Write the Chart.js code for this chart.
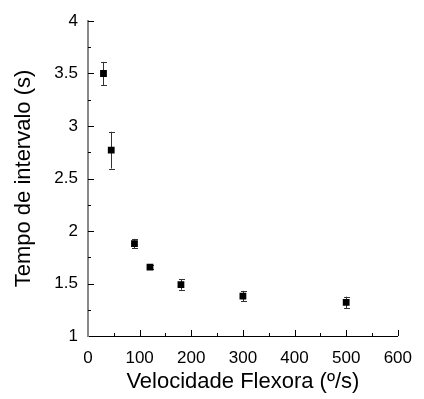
<!DOCTYPE html>
<html>
<head>
<meta charset="utf-8">
<script src="https://cdn.jsdelivr.net/npm/chart.js@4"></script>
<style>
html,body{margin:0;padding:0;background:#fff;}
#wrap{width:424px;height:399px;}
</style>
</head>
<body>
<div id="wrap"><canvas id="c" width="424" height="399"></canvas></div>
<script>
const velocidade = [30, 45, 90, 120, 180, 300, 500];
const tempo = [3.50, 2.77, 1.88, 1.655, 1.49, 1.38, 1.32];
const erro = [0.11, 0.175, 0.045, 0.02, 0.05, 0.05, 0.055];
const xTicks = [0, 100, 200, 300, 400, 500, 600];
const yTicks = [1, 1.5, 2, 2.5, 3, 3.5, 4];

const FONT = "'Liberation Sans', Arial, sans-serif";

const errorBars = {
  id: 'errorBars',
  beforeDatasetsDraw(chart) {
    const ctx = chart.ctx, xs = chart.scales.x, ys = chart.scales.y;
    ctx.save();
    ctx.strokeStyle = '#333';
    ctx.lineWidth = 1;
    velocidade.forEach((v, i) => {
      const px = Math.round(xs.getPixelForValue(v)) + 0.5;
      const top = ys.getPixelForValue(tempo[i] + erro[i]);
      const bot = ys.getPixelForValue(tempo[i] - erro[i]);
      ctx.beginPath();
      ctx.moveTo(px, top); ctx.lineTo(px, bot);
      ctx.moveTo(px - 2.5, Math.round(top) + 0.5); ctx.lineTo(px + 3.5, Math.round(top) + 0.5);
      ctx.moveTo(px - 2.5, Math.round(bot) + 0.5); ctx.lineTo(px + 3.5, Math.round(bot) + 0.5);
      ctx.stroke();
    });
    ctx.restore();
  }
};

const innerTicks = {
  id: 'innerTicks',
  afterDraw(chart) {
    const ctx = chart.ctx, xs = chart.scales.x, ys = chart.scales.y;
    const ca = chart.chartArea;
    ctx.save();
    ctx.strokeStyle = '#000';
    ctx.lineWidth = 1;
    ctx.beginPath();
    for (let v = xs.min; v <= xs.max + 1e-9; v += 50) {
      const px = Math.round(xs.getPixelForValue(v)) + 0.5;
      const len = (Math.round(v) % 100 === 0) ? 6 : 3;
      if (v === xs.min) continue;
      ctx.moveTo(px, ca.bottom); ctx.lineTo(px, ca.bottom - len);
    }
    for (let v = ys.min; v <= ys.max + 1e-9; v += 0.25) {
      const py = Math.round(ys.getPixelForValue(v)) + 0.5;
      const len = (Math.abs(v * 2 - Math.round(v * 2)) < 1e-9) ? 6 : 3;
      if (v === ys.min) continue;
      ctx.moveTo(ca.left, py); ctx.lineTo(ca.left + len, py);
    }
    ctx.stroke();
    ctx.restore();
  }
};

new Chart(document.getElementById('c'), {
  type: 'scatter',
  data: {
    datasets: [{
      data: velocidade.map((v, i) => ({x: v, y: tempo[i]})),
      pointStyle: 'rect',
      pointRadius: 4.8,
      pointHoverRadius: 4.8,
      backgroundColor: '#000',
      borderColor: '#000',
      borderWidth: 0
    }]
  },
  plugins: [errorBars, innerTicks],
  options: {
    responsive: false,
    animation: false,
    events: [],
    layout: {padding: {top: 21, right: 18, left: 11, bottom: 4}},
    plugins: {legend: {display: false}, tooltip: {enabled: false}},
    scales: {
      x: {
        type: 'linear', min: 0, max: 600,
        afterFit(s) { s.height = 59; },
        afterBuildTicks(s) { s.ticks = xTicks.map(v => ({value: v})); },
        grid: {display: false, drawTicks: false},
        border: {display: true, color: '#000', width: 1},
        ticks: {padding: 12, color: '#000', font: {family: FONT, size: 17}, callback: v => String(v)},
        title: {display: true, text: 'Velocidade Flexora (º/s)', color: '#000', font: {family: FONT, size: 22}, padding: {top: 0, bottom: 0}}
      },
      y: {
        type: 'linear', min: 1, max: 4,
        afterFit(s) { s.width = 77; },
        afterBuildTicks(s) { s.ticks = yTicks.map(v => ({value: v})); },
        grid: {display: false, drawTicks: false},
        border: {display: true, color: '#888', width: 2},
        ticks: {padding: 10, color: '#000', font: {family: FONT, size: 17}, callback: v => String(v)},
        title: {display: true, text: 'Tempo de intervalo (s)', color: '#000', font: {family: FONT, size: 22}, padding: {top: 0, bottom: 0}}
      }
    }
  }
});
</script>
</body>
</html>
